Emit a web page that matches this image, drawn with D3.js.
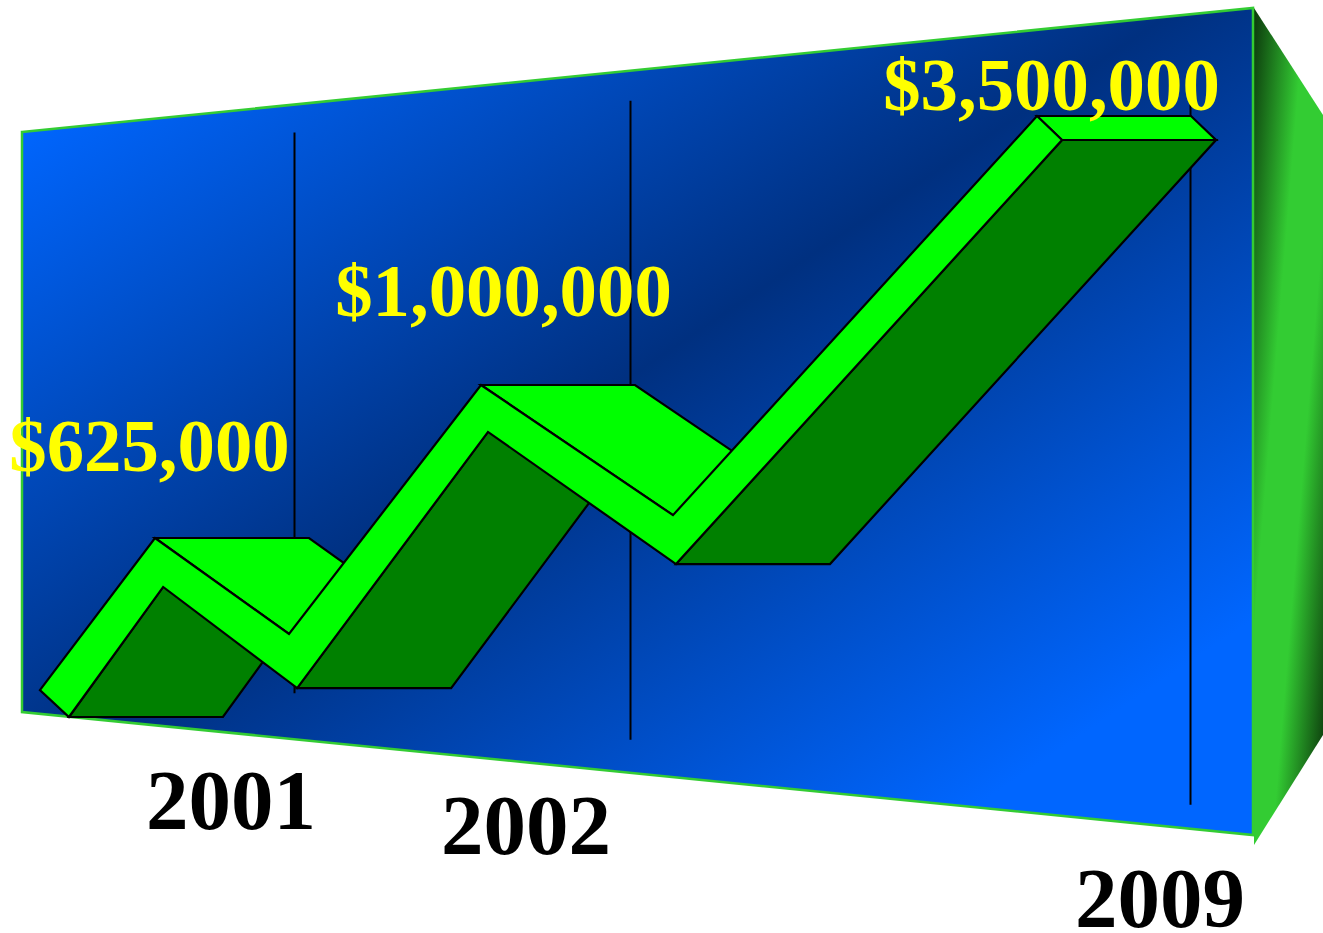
<!DOCTYPE html>
<html>
<head>
<meta charset="utf-8">
<title>Growth 2001-2009</title>
<script src="https://cdn.jsdelivr.net/npm/d3@7"></script>
<style>
  html, body { margin: 0; padding: 0; background: #fff; overflow: hidden; }
  svg { display: block; }
  text { font-family: "Liberation Serif", "Times New Roman", serif; font-weight: bold; }
</style>
</head>
<body>
<svg id="chart" width="1323" height="933"></svg>
<script>
// Reported figures
const years = [2001, 2002, 2009];
const amounts = [625000, 1000000, 3500000];
const yearLabels = ["2001", "2002", "2009"];
const amountLabels = ["$625,000", "$1,000,000", "$3,500,000"];

// Ribbon outline, read as (year, dollars) vertices along its upper and lower edges
const upperEdgeYears = [2000.647, 2001, 2001.411, 2002, 2004.417, 2009];
const upperEdgeAmounts = [94000, 625000, 290000, 1000000, 681000, 3500000];
const lowerEdgeYears = [2000.736, 2001.025, 2001.436, 2002.088, 2004.455, 2009.315];
const lowerEdgeAmounts = [0, 454000, 101000, 885000, 534000, 3277000];

// Scales: the chart is a perspective drawing, so both axes are piecewise
const x = d3.scaleLinear().domain(years).range([155, 481, 1037]);
const wallX = d3.scaleLinear().domain(years).range([294.5, 630.5, 1190.5]);
const y = d3.scaleLinear().domain([0, ...amounts]).range([717, 538, 385, 116]);

// Perspective of the back wall
const wallTop = d3.scaleLinear().domain([22, 1253]).range([132, 8]);
const wallBottom = d3.scaleLinear().domain([22, 1253]).range([712, 835]);
const depth = 154;

const svg = d3.select("#chart");
const defs = svg.append("defs");

const wallGrad = defs.append("linearGradient")
  .attr("id", "wallFill")
  .attr("x1", 0).attr("y1", 0).attr("x2", 1).attr("y2", 1);
[[0.07, "#0066ff"], [0.47, "#003080"], [0.87, "#0066ff"]].forEach(([o, c]) =>
  wallGrad.append("stop").attr("offset", o).attr("stop-color", c));

const sideGrad = defs.append("linearGradient")
  .attr("id", "sideFill")
  .attr("x1", 0).attr("y1", 0).attr("x2", 1).attr("y2", 1);
[[0, "#0c380c"], [0.37, "#33cc33"], [0.63, "#33cc33"], [0.97, "#0c380c"]].forEach(([o, c]) =>
  sideGrad.append("stop").attr("offset", o).attr("stop-color", c));

const outline = d3.line();

// Right-hand side panel and the back wall
svg.append("path")
  .attr("d", outline([[1254, 8], [1323, 115], [1323, 735], [1254, 845]]) + "Z")
  .attr("fill", "url(#sideFill)");

svg.append("path")
  .attr("d", outline([[22, wallTop(22)], [1253, wallTop(1253)], [1253, wallBottom(1253)], [22, wallBottom(22)]]) + "Z")
  .attr("fill", "url(#wallFill)")
  .attr("stroke", "#33cc33")
  .attr("stroke-width", 2.5);

// Vertical year rules on the wall
const ruleInsets = [[28, 46], [30, 33], [56, 24]];
svg.append("g").selectAll("line")
  .data(years)
  .join("line")
  .attr("x1", d => wallX(d)).attr("x2", d => wallX(d))
  .attr("y1", (d, i) => wallTop(wallX(d)) + ruleInsets[i][0])
  .attr("y2", (d, i) => wallBottom(wallX(d)) - ruleInsets[i][1])
  .attr("stroke", "#000")
  .attr("stroke-width", 2);

const upper = upperEdgeYears.map((yr, i) => [x(yr), y(upperEdgeAmounts[i])]);
const lower = lowerEdgeYears.map((yr, i) => [x(yr), y(lowerEdgeAmounts[i])]);
const shifted = p => [p[0] + depth, p[1]];

const faces = svg.append("g")
  .attr("stroke", "#000")
  .attr("stroke-width", 2.2)
  .attr("stroke-linejoin", "miter");

// Extruded faces, painted leg by leg from left to right: rising legs show a
// dark underside, falling legs a bright top
d3.range(5).forEach(i => {
  const rising = i % 2 === 0;
  const edge = rising ? lower : upper;
  faces.append("path")
    .attr("d", outline([edge[i], edge[i + 1], shifted(edge[i + 1]), shifted(edge[i])]) + "Z")
    .attr("fill", rising ? "#008000" : "#00ff00");
});

// Top face of the closing cap
faces.append("path")
  .attr("d", outline([upper[5], shifted(upper[5]), shifted(lower[5]), lower[5]]) + "Z")
  .attr("fill", "#00ff00");

// Front of the ribbon
faces.append("path")
  .attr("d", outline([...upper, ...lower.slice().reverse()]) + "Z")
  .attr("fill", "#00ff00");

// Labels
const amountAnchors = [[149.5, 471], [503.5, 316], [1051.5, 110]];
svg.append("g").selectAll("text")
  .data(amountLabels)
  .join("text")
  .attr("x", (d, i) => amountAnchors[i][0])
  .attr("y", (d, i) => amountAnchors[i][1])
  .attr("text-anchor", "middle")
  .attr("font-size", 74.8)
  .attr("fill", "#ffff00")
  .text(d => d);

const yearAnchors = [[231, 829], [526, 854], [1160, 927]];
svg.append("g").selectAll("text")
  .data(yearLabels)
  .join("text")
  .attr("x", (d, i) => yearAnchors[i][0])
  .attr("y", (d, i) => yearAnchors[i][1])
  .attr("text-anchor", "middle")
  .attr("font-size", 85)
  .attr("fill", "#000")
  .text(d => d);
</script>
</body>
</html>
